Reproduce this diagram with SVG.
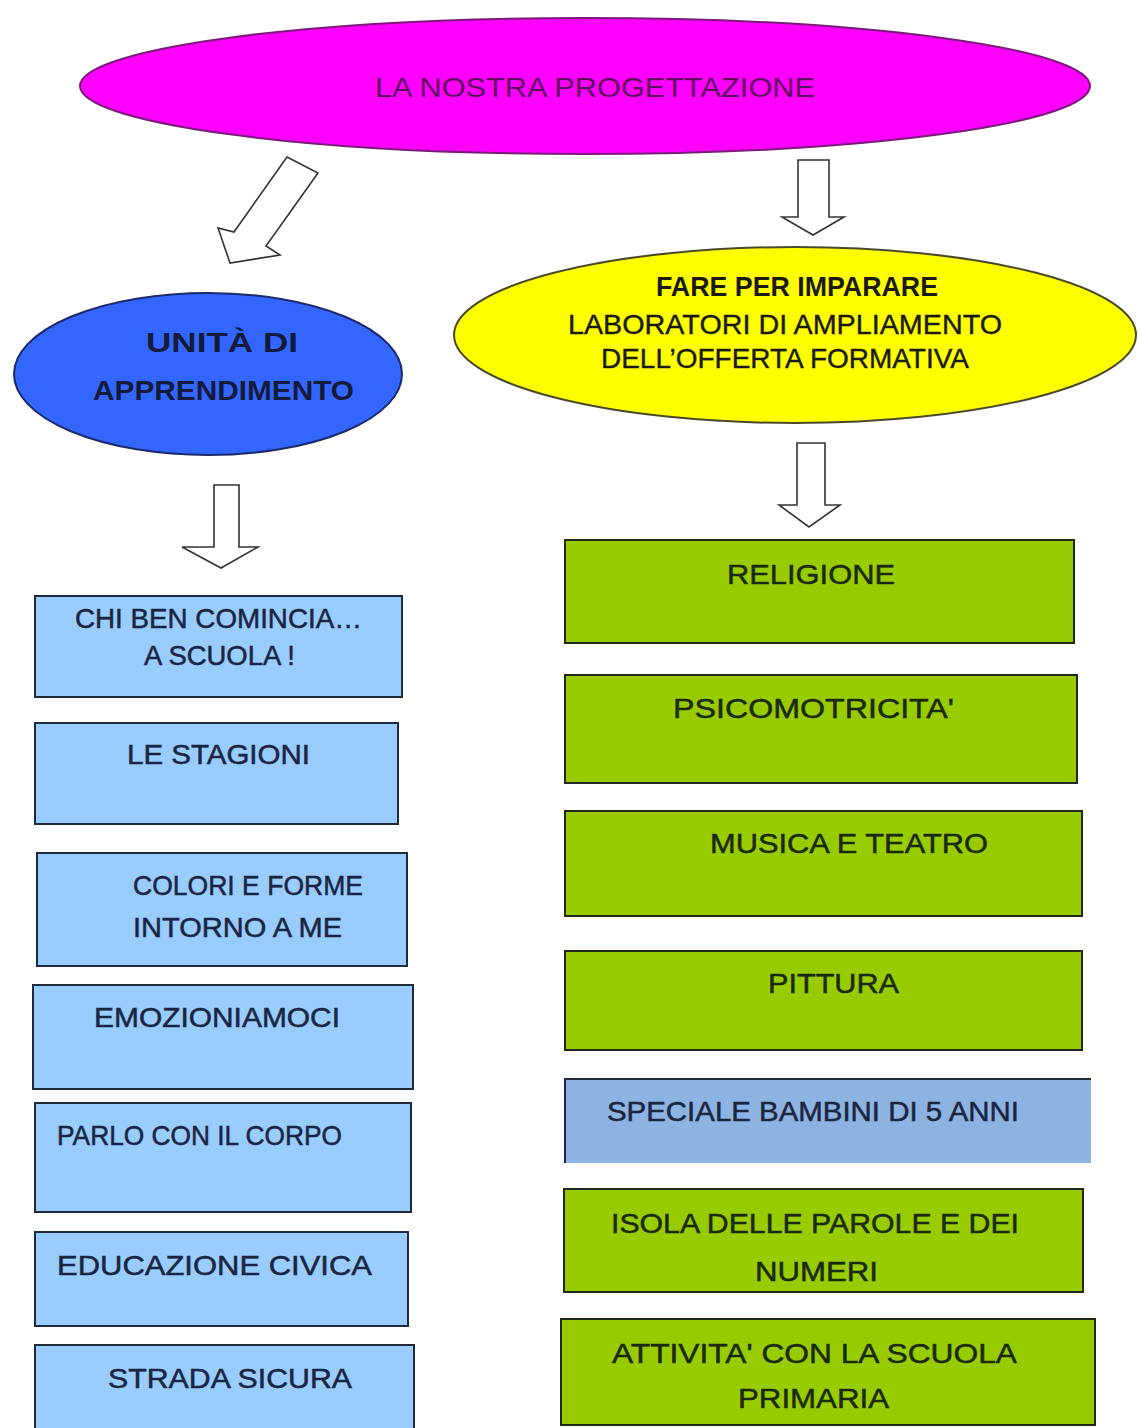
<svg xmlns="http://www.w3.org/2000/svg" width="1138" height="1428" viewBox="0 0 1138 1428">
<defs>
<style>
.t{font-family:"Comic Sans MS","Liberation Sans","Noto Sans",sans-serif;font-size:28px;}
.b{font-weight:bold;}
.lb{fill:#99ccff;stroke:#1f2a3a;stroke-width:2;}
.gb{fill:#99cc00;stroke:#1f2a1a;stroke-width:2;}
.lt{fill:#1a2540;stroke:#1a2540;stroke-width:0.5;}
.gt{fill:#1a2a10;stroke:#1a2a10;stroke-width:0.5;}
.arr{fill:#ffffff;stroke:#333333;stroke-width:1.6;stroke-linejoin:miter;}
</style>
</defs>
<rect width="1138" height="1428" fill="#ffffff"/>

<g id="connectors">
<polygon class="arr" points="287,157 318,173 266,246 280,255 230,263 218,228 234,232"/>
<polygon class="arr" points="798,160 829,160 829,217 844,217 813,235 782,217 798,217"/>
<polygon class="arr" points="214,485 239,485 239,547 258,547 221,568 182,547 214,547"/>
<polygon class="arr" points="797,443 825,443 825,505 840,505 809,527 779,505 797,505"/>
</g>

<g id="root">
<ellipse cx="585" cy="86" rx="505" ry="68" fill="#ff00ff" stroke="#7a1a7a" stroke-width="2"/>
<text class="t" x="375" y="97" textLength="440" lengthAdjust="spacingAndGlyphs" fill="#5c0f5c">LA NOSTRA PROGETTAZIONE</text>
</g>

<g id="unita">
<ellipse cx="208" cy="374" rx="194" ry="81" fill="#3366ff" stroke="#1a2a6a" stroke-width="2"/>
<text class="t b" x="146" y="352" textLength="152" lengthAdjust="spacingAndGlyphs" fill="#141a3a">UNITÀ DI</text>
<text class="t b" x="93" y="400" textLength="261" lengthAdjust="spacingAndGlyphs" fill="#141a3a">APPRENDIMENTO</text>
</g>

<g id="fare">
<ellipse cx="795" cy="335" rx="341" ry="88" fill="#ffff00" stroke="#4a4a2a" stroke-width="2"/>
<text class="t b" x="656" y="296" textLength="282" lengthAdjust="spacingAndGlyphs" fill="#1a1a10">FARE PER IMPARARE</text>
<text class="t" x="568" y="334" textLength="434" lengthAdjust="spacingAndGlyphs" fill="#1a1a10" stroke="#1a1a10" stroke-width="0.4">LABORATORI DI AMPLIAMENTO</text>
<text class="t" x="601" y="368" textLength="368" lengthAdjust="spacingAndGlyphs" fill="#1a1a10" stroke="#1a1a10" stroke-width="0.4">DELL’OFFERTA FORMATIVA</text>
</g>

<g id="chi-ben">
<rect class="lb" x="35" y="596" width="367" height="101"/>
<text class="t lt" x="75" y="628" textLength="287" lengthAdjust="spacingAndGlyphs">CHI BEN COMINCIA…</text>
<text class="t lt" x="144" y="665" textLength="151" lengthAdjust="spacingAndGlyphs">A SCUOLA !</text>
</g>
<g id="stagioni">
<rect class="lb" x="35" y="723" width="363" height="101"/>
<text class="t lt" x="127" y="764" textLength="183" lengthAdjust="spacingAndGlyphs">LE STAGIONI</text>
</g>
<g id="colori">
<rect class="lb" x="37" y="853" width="370" height="113"/>
<text class="t lt" x="133" y="895" textLength="230" lengthAdjust="spacingAndGlyphs">COLORI E FORME</text>
<text class="t lt" x="133" y="937" textLength="209" lengthAdjust="spacingAndGlyphs">INTORNO A ME</text>
</g>
<g id="emozioniamoci">
<rect class="lb" x="33" y="985" width="380" height="104"/>
<text class="t lt" x="94" y="1027" textLength="246" lengthAdjust="spacingAndGlyphs">EMOZIONIAMOCI</text>
</g>
<g id="parlo">
<rect class="lb" x="35" y="1103" width="376" height="109"/>
<text class="t lt" x="57" y="1145" textLength="285" lengthAdjust="spacingAndGlyphs">PARLO CON IL CORPO</text>
</g>
<g id="educazione">
<rect class="lb" x="35" y="1232" width="373" height="94"/>
<text class="t lt" x="57" y="1275" font-size="31" textLength="315" lengthAdjust="spacingAndGlyphs">EDUCAZIONE CIVICA</text>
</g>
<g id="strada">
<rect class="lb" x="35" y="1345" width="379" height="95"/>
<text class="t lt" x="108" y="1388" font-size="30" textLength="244" lengthAdjust="spacingAndGlyphs">STRADA SICURA</text>
</g>

<g id="religione">
<rect class="gb" x="565" y="540" width="509" height="103"/>
<text class="t gt" x="727" y="584" font-size="30" textLength="168" lengthAdjust="spacingAndGlyphs">RELIGIONE</text>
</g>
<g id="psicomotricita">
<rect class="gb" x="565" y="675" width="512" height="108"/>
<text class="t gt" x="673" y="718" font-size="30" textLength="281" lengthAdjust="spacingAndGlyphs">PSICOMOTRICITA'</text>
</g>
<g id="musica">
<rect class="gb" x="565" y="811" width="517" height="105"/>
<text class="t gt" x="710" y="853" font-size="30" textLength="278" lengthAdjust="spacingAndGlyphs">MUSICA E TEATRO</text>
</g>
<g id="pittura">
<rect class="gb" x="565" y="951" width="517" height="99"/>
<text class="t gt" x="768" y="993" font-size="30" textLength="131" lengthAdjust="spacingAndGlyphs">PITTURA</text>
</g>
<g id="speciale">
<rect x="565" y="1079" width="526" height="84" fill="#8db3e2"/>
<polyline points="565,1163 565,1079 1091,1079" fill="none" stroke="#1f2a3a" stroke-width="2"/>
<text class="t lt" x="607" y="1121" textLength="412" lengthAdjust="spacingAndGlyphs">SPECIALE BAMBINI DI 5 ANNI</text>
</g>
<g id="isola">
<rect class="gb" x="564" y="1189" width="519" height="103"/>
<text class="t gt" x="611" y="1233" font-size="30" textLength="408" lengthAdjust="spacingAndGlyphs">ISOLA DELLE PAROLE E DEI</text>
<text class="t gt" x="755" y="1281" font-size="30" textLength="123" lengthAdjust="spacingAndGlyphs">NUMERI</text>
</g>
<g id="attivita">
<rect class="gb" x="561" y="1319" width="534" height="106"/>
<text class="t gt" x="612" y="1363" font-size="30" textLength="405" lengthAdjust="spacingAndGlyphs">ATTIVITA' CON LA SCUOLA</text>
<text class="t gt" x="738" y="1408" font-size="30" textLength="151" lengthAdjust="spacingAndGlyphs">PRIMARIA</text>
</g>
</svg>
